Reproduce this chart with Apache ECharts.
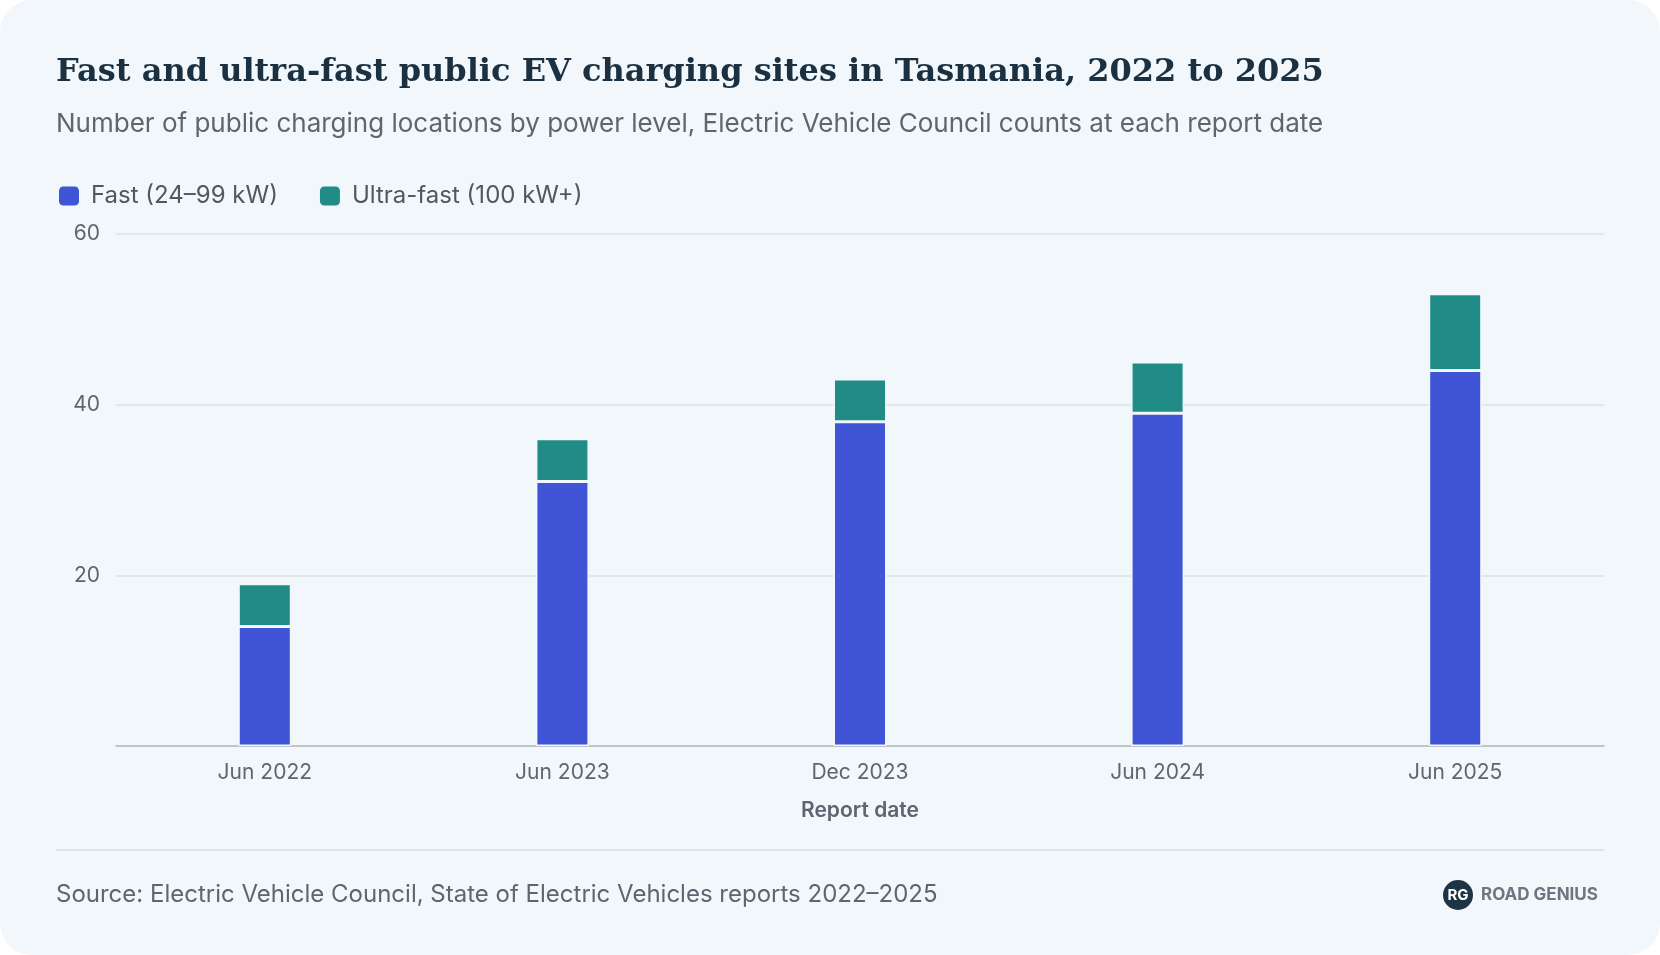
<!DOCTYPE html>
<html>
<head>
<meta charset="utf-8">
<script src="https://cdn.jsdelivr.net/npm/echarts@6/dist/echarts.min.js"></script>
<style>
  html,body{margin:0;padding:0;background:#ffffff;}
  #chart{width:1660px;height:955px;}
</style>
</head>
<body>
<div id="chart"></div>
<script>
// report dates and counts
var reportDates = ['Jun 2022', 'Jun 2023', 'Dec 2023', 'Jun 2024', 'Jun 2025']
var fastSites = [14, 31, 38, 39, 44]
var ultraFastSites = [5, 5, 5, 6, 9]

var chart = echarts.init(document.getElementById('chart'))
var font = 'Inter, "Noto Sans", sans-serif'

var option = {
  backgroundColor: '#ffffff',
  animation: false,
  graphic: [
    { type: 'rect', shape: { x: 0, y: 0, width: 1660, height: 955, r: 32 }, style: { fill: '#f2f7fc' }, z: -10 },
    { type: 'text', left: 56, top: 57, style: { text: 'Fast and ultra-fast public EV charging sites in Tasmania, 2022 to 2025', font: 'bold 32px "DejaVu Serif", "Liberation Serif", serif', fill: '#1b3142' } },
    { type: 'text', left: 56, top: 111, style: { text: 'Number of public charging locations by power level, Electric Vehicle Council counts at each report date', font: '26px ' + font, fill: '#5d6670' } },
    { type: 'rect', shape: { x: 56, y: 849, width: 1548, height: 2 }, style: { fill: '#dfe3e3' } },
    { type: 'text', left: 56, top: 883, style: { text: 'Source: Electric Vehicle Council, State of Electric Vehicles reports 2022\u20132025', font: '24px ' + font, fill: '#5d6670' } },
    { type: 'circle', shape: { cx: 1458, cy: 895, r: 15 }, style: { fill: '#1d3444' } },
    { type: 'text', x: 1458, y: 895, style: { text: 'RG', font: 'bold 15px ' + font, fill: '#ffffff', align: 'center', verticalAlign: 'middle' } },
    { type: 'text', x: 1481, y: 895, style: { text: 'ROAD GENIUS', font: 'bold 17px ' + font, fill: '#6b7680', verticalAlign: 'middle' } }
  ],
  legend: {
    left: 52,
    top: 179,
    itemWidth: 22,
    itemHeight: 21,
    itemGap: 40,
    icon: 'roundRect',
    textStyle: { fontFamily: font, fontSize: 24, color: '#4f5860', padding: [0, 0, 0, 6] },
    data: ['Fast (24\u201399 kW)', 'Ultra-fast (100 kW+)']
  },
  grid: { left: 116, right: 56, top: 234, bottom: 209, containLabel: false },
  xAxis: {
    type: 'category',
    data: reportDates,
    name: 'Report date',
    nameLocation: 'middle',
    nameGap: 54,
    nameTextStyle: { fontFamily: font, fontSize: 21, fontWeight: 600, color: '#5d6670' },
    axisLine: { lineStyle: { color: '#b4b9bb', width: 1.5 } },
    axisTick: { show: false },
    axisLabel: { fontFamily: font, fontSize: 21, color: '#5d6670', margin: 16 }
  },
  yAxis: {
    type: 'value',
    min: 0,
    max: 60,
    interval: 20,
    axisLine: { show: false },
    axisTick: { show: false },
    splitLine: { lineStyle: { color: '#dde2e2', width: 1.5 } },
    axisLabel: {
      fontFamily: font, fontSize: 21, color: '#5d6670', margin: 16,
      formatter: function (v) { return v === 0 ? '' : v }
    }
  },
  series: [
    {
      name: 'Fast (24\u201399 kW)',
      type: 'bar',
      stack: 'sites',
      barWidth: 53,
      data: fastSites,
      itemStyle: { color: '#3f55d6', borderColor: '#f2f7fc', borderWidth: 1.5 }
    },
    {
      name: 'Ultra-fast (100 kW+)',
      type: 'bar',
      stack: 'sites',
      barWidth: 53,
      data: ultraFastSites,
      itemStyle: { color: '#218c87', borderColor: '#f2f7fc', borderWidth: 1.5 }
    }
  ]
}

chart.setOption(option)
</script>
</body>
</html>
